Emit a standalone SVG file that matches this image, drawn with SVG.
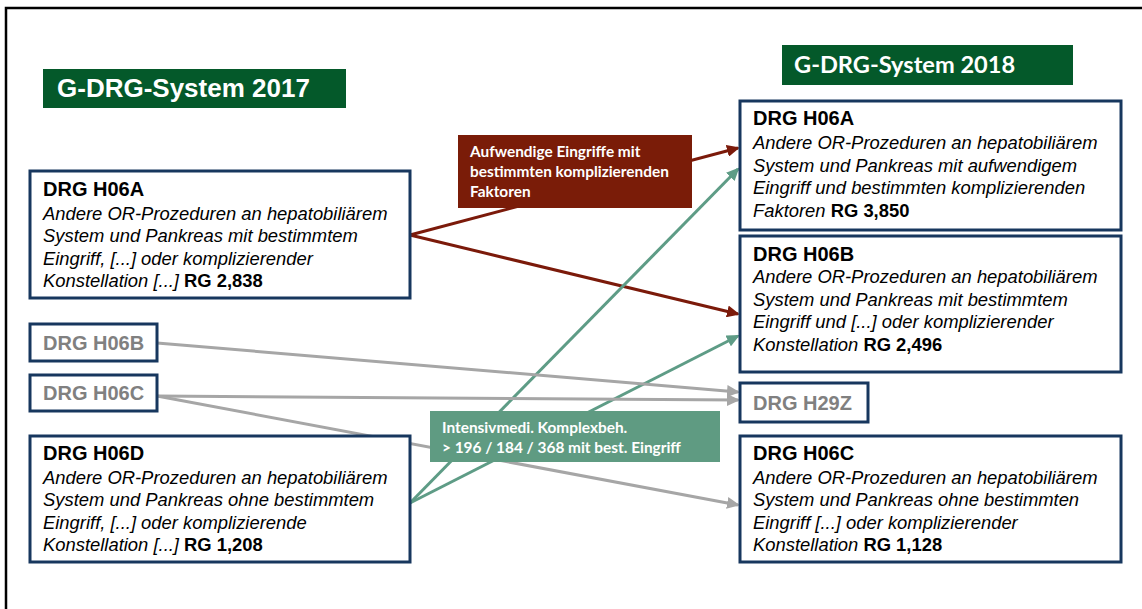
<svg xmlns="http://www.w3.org/2000/svg" width="1142" height="609" viewBox="0 0 1142 609">
  <style>
    .box { fill: #ffffff; stroke: #17375E; stroke-width: 3; }
    .head { font-family: "Liberation Sans", Arial, sans-serif; font-weight: bold; font-size: 20px; fill: #000000; }
    .gray { font-family: "Liberation Sans", Arial, sans-serif; font-weight: bold; font-size: 20px; fill: #808080; }
    .desc { font-family: "Liberation Sans", Arial, sans-serif; font-style: italic; font-size: 18.4px; fill: #000000; }
    .rg { font-style: normal; font-weight: bold; }
    .title17 { font-family: "Liberation Sans", Arial, sans-serif; font-weight: bold; font-size: 26px; fill: #ffffff; }
    .title18 { font-family: Lato, "Open Sans", sans-serif; font-weight: bold; font-size: 23.6px; fill: #ffffff; }
    .lbl { font-family: Lato, "Open Sans", sans-serif; font-weight: bold; font-size: 15.4px; fill: #ffffff; }
    .red { stroke: #7B1A0A; stroke-width: 3; fill: none; }
    .green { stroke: #5E9C86; stroke-width: 3; fill: none; }
    .grayl { stroke: #A6A6A6; stroke-width: 3; fill: none; }
  </style>
  <defs>
    <marker id="arRed" markerUnits="userSpaceOnUse" markerWidth="14" markerHeight="12" refX="11" refY="6" orient="auto">
      <path d="M0,0 L13,6 L0,12 z" fill="#7B1A0A"/>
    </marker>
    <marker id="arGreen" markerUnits="userSpaceOnUse" markerWidth="14" markerHeight="12" refX="11" refY="6" orient="auto">
      <path d="M0,0 L13,6 L0,12 z" fill="#5E9C86"/>
    </marker>
    <marker id="arGray" markerUnits="userSpaceOnUse" markerWidth="14" markerHeight="12" refX="11" refY="6" orient="auto">
      <path d="M0,0 L13,6 L0,12 z" fill="#A6A6A6"/>
    </marker>
  </defs>

  <rect width="1142" height="609" fill="#ffffff"/>
  <!-- page frame -->
  <rect x="6" y="8" width="1160" height="640" fill="none" stroke="#000000" stroke-width="2.5"/>

  <!-- column titles -->
  <g id="title2017">
    <rect x="43" y="69" width="303" height="39" fill="#04592A"/>
    <text class="title17" x="57" y="97">G-DRG-System 2017</text>
  </g>
  <g id="title2018">
    <rect x="782" y="45" width="291" height="40" fill="#04592A"/>
    <text class="title18" x="794" y="73">G-DRG-System 2018</text>
  </g>

  <!-- connectors -->
  <g id="connectors">
    <line class="red" x1="410" y1="235" x2="738" y2="148" marker-end="url(#arRed)"/>
    <line class="red" x1="410" y1="235" x2="738" y2="314" marker-end="url(#arRed)"/>
    <line class="green" x1="410" y1="503" x2="738" y2="169" marker-end="url(#arGreen)"/>
    <line class="green" x1="410" y1="503" x2="738" y2="336" marker-end="url(#arGreen)"/>
    <line class="grayl" x1="157" y1="343" x2="738" y2="392" marker-end="url(#arGray)"/>
    <line class="grayl" x1="157" y1="396" x2="738" y2="400" marker-end="url(#arGray)"/>
    <line class="grayl" x1="157" y1="396" x2="738" y2="505" marker-end="url(#arGray)"/>
  </g>

  <!-- 2017 nodes -->
  <g id="l-h06a">
    <rect class="box" x="30" y="171" width="380" height="127"/>
    <text class="head" x="43" y="196">DRG H06A</text>
    <text class="desc" x="43" y="219.5">Andere OR-Prozeduren an hepatobiliärem</text>
    <text class="desc" x="43" y="242">System und Pankreas mit bestimmtem</text>
    <text class="desc" x="43" y="264.5">Eingriff, [...] oder komplizierender</text>
    <text class="desc" x="43" y="287">Konstellation [...] <tspan class="rg">RG 2,838</tspan></text>
  </g>
  <g id="l-h06b">
    <rect class="box" x="30" y="324" width="127" height="37"/>
    <text class="gray" x="43" y="350">DRG H06B</text>
  </g>
  <g id="l-h06c">
    <rect class="box" x="30" y="375" width="127" height="36"/>
    <text class="gray" x="43" y="400">DRG H06C</text>
  </g>
  <g id="l-h06d">
    <rect class="box" x="30" y="436" width="380" height="126"/>
    <text class="head" x="43" y="460">DRG H06D</text>
    <text class="desc" x="43" y="483.5">Andere OR-Prozeduren an hepatobiliärem</text>
    <text class="desc" x="43" y="506">System und Pankreas ohne bestimmtem</text>
    <text class="desc" x="43" y="528.5">Eingriff, [...] oder komplizierende</text>
    <text class="desc" x="43" y="551">Konstellation [...] <tspan class="rg">RG 1,208</tspan></text>
  </g>

  <!-- 2018 nodes -->
  <g id="r-h06a">
    <rect class="box" x="740" y="101" width="381" height="129"/>
    <text class="head" x="753" y="125">DRG H06A</text>
    <text class="desc" x="753" y="149">Andere OR-Prozeduren an hepatobiliärem</text>
    <text class="desc" x="753" y="171.5">System und Pankreas mit aufwendigem</text>
    <text class="desc" x="753" y="194">Eingriff und bestimmten komplizierenden</text>
    <text class="desc" x="753" y="216.5">Faktoren <tspan class="rg">RG 3,850</tspan></text>
  </g>
  <g id="r-h06b">
    <rect class="box" x="740" y="236" width="381" height="136"/>
    <text class="head" x="753" y="261">DRG H06B</text>
    <text class="desc" x="753" y="283">Andere OR-Prozeduren an hepatobiliärem</text>
    <text class="desc" x="753" y="305.5">System und Pankreas mit bestimmtem</text>
    <text class="desc" x="753" y="328">Eingriff und [...] oder komplizierender</text>
    <text class="desc" x="753" y="350.5">Konstellation <tspan class="rg">RG 2,496</tspan></text>
  </g>
  <g id="r-h29z">
    <rect class="box" x="740" y="383" width="128" height="39"/>
    <text class="gray" x="753" y="410">DRG H29Z</text>
  </g>
  <g id="r-h06c">
    <rect class="box" x="740" y="436" width="381" height="126"/>
    <text class="head" x="753" y="460">DRG H06C</text>
    <text class="desc" x="753" y="483.5">Andere OR-Prozeduren an hepatobiliärem</text>
    <text class="desc" x="753" y="506">System und Pankreas ohne bestimmten</text>
    <text class="desc" x="753" y="528.5">Eingriff [...] oder komplizierender</text>
    <text class="desc" x="753" y="551">Konstellation <tspan class="rg">RG 1,128</tspan></text>
  </g>

  <!-- connector labels -->
  <g id="label-aufwendig">
    <rect x="458" y="135" width="234" height="73" fill="#7A1C08"/>
    <text class="lbl" x="470" y="157">Aufwendige Eingriffe mit</text>
    <text class="lbl" x="470" y="177">bestimmten komplizierenden</text>
    <text class="lbl" x="470" y="197">Faktoren</text>
  </g>
  <g id="label-intensiv">
    <rect x="430" y="411" width="290" height="51" fill="#5F9B82"/>
    <text class="lbl" x="442" y="433">Intensivmedi. Komplexbeh.</text>
    <text class="lbl" x="442" y="453">&gt; 196 / 184 / 368 mit best. Eingriff</text>
  </g>
</svg>
